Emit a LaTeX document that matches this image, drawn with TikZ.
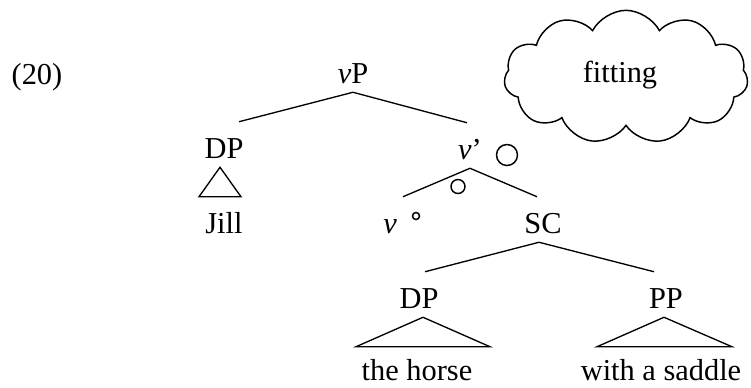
\documentclass[tikz,border=0pt]{standalone}
\usepackage{fontspec}
\setmainfont{Liberation Serif}
\usetikzlibrary{calc,shapes.symbols}

\begin{document}
\begin{tikzpicture}[x=0.75pt,y=0.75pt,yscale=-1,
  every node/.style={font=\fontsize{22.8}{27}\selectfont},
  lab/.style={inner sep=0pt,text height=27pt,text depth=6.75pt,anchor=base},
  leaf/.style={lab,text depth=0pt},
  branch/.style={line width=1pt},
  bubble/.style={line width=1.1pt}]

\useasboundingbox (0,0) rectangle (751,387);

% Text Node
\node [anchor=base,inner sep=0pt] (ex) at (37,84) {(20)};
% Text Node
\node [lab] (vP) at (353,83) {\textit{v}P};
% Text Node
\node [lab] (DPa) at (224,158) {DP};
% Text Node
\node [leaf] (Jill) at (224,233) {Jill};
% Text Node
\node [lab] (vbar) at (470,159) {\textit{v}’};
% Text Node
\node [leaf] (v) at (390,233) {\textit{v}};
% Text Node
\node [lab] (SC) at (543,233) {SC};
% Text Node
\node [lab] (DPb) at (419,308) {DP};
% Text Node
\node [lab] (PP) at (666,308) {PP};
% Text Node
\node [leaf] (horse) at (417,380) {the horse};
% Text Node
\node [leaf] (saddle) at (661,380) {with a saddle};

%Straight Lines
\draw [branch] ($(DPa.north)+(15,0)$) -- (vP.south) -- ($(vbar.north)+(-3,0)$);
\draw [branch] ($(v.north)+(13,0)$) -- (vbar.south) -- ($(SC.north)+(-6,0)$);
\draw [branch] ($(DPb.north)+(6,0)$) -- ($(SC.south)+(-4,0)$) -- ($(PP.north)+(-12,0)$);

%Shape: Triangle
\draw [branch] ($(DPa.south)+(-4,0)$) -- ($(Jill.north)+(-25,0)$) -- ($(Jill.north)+(17,0)$) -- cycle;
%Shape: Triangle
\draw [branch] ($(DPb.south)+(4,0)$) -- ($(horse.north)+(-61,3)$) -- ($(horse.north)+(73,3)$) -- cycle;
%Shape: Triangle
\draw [branch] ($(PP.south)+(-2,0)$) -- ($(saddle.north)+(-64,3)$) -- ($(saddle.north)+(71,3)$) -- cycle;

%Shape: Circle
\draw [bubble] (416,216) circle (3.5);
%Shape: Circle
\draw [bubble] (458,186.5) circle (7);
%Shape: Circle
\draw [bubble] (507,155) circle (10.5);

%Shape: Cloud
\node [cloud,draw,bubble,cloud puffs=11,cloud puff arc=125,aspect=1.85,
  minimum width=183pt,minimum height=100pt,inner sep=0pt] (thought) at (626,77) {};
% Text Node
\node [anchor=base,inner sep=0pt] (fit) at (620,82) {fitting};
\end{tikzpicture}
\end{document}
